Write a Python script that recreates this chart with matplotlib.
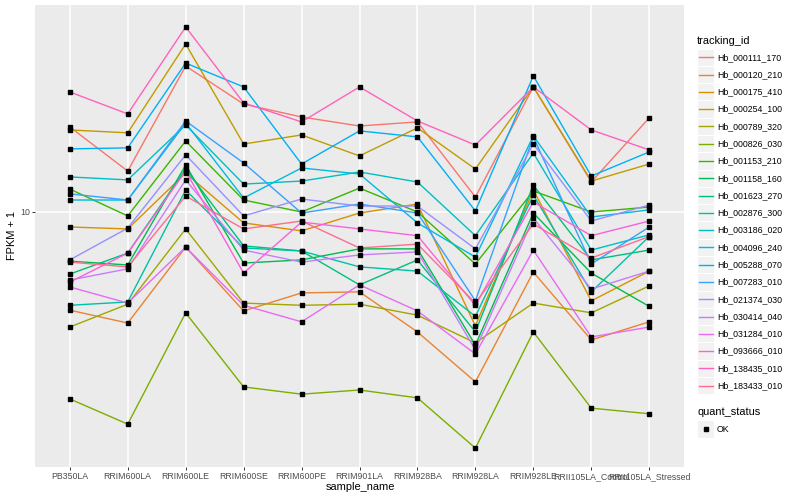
import matplotlib
matplotlib.use('Agg')
import matplotlib.pyplot as plt
from matplotlib.lines import Line2D
from matplotlib.patches import Rectangle
from matplotlib.ticker import FixedLocator, NullLocator

plt.rcParams['font.family'] = ['Liberation Sans', 'DejaVu Sans']

# samples on the x axis
samples = ['PB350LA', 'RRIM600LA', 'RRIM600LE', 'RRIM600SE', 'RRIM600PE',
           'RRIM901LA', 'RRIM928BA', 'RRIM928LA', 'RRIM928LE',
           'RRII105LA_Control', 'RRII105LA_Stressed']

# FPKM + 1 per gene
hb_000111_170 = [13.86, 11.70, 17.51, 15.13, 14.40, 13.91, 14.13, 10.59, 16.16, 11.22, 14.35]
hb_000120_210 = [6.86, 6.53, 8.74, 6.84, 7.33, 7.36, 6.31, 5.21, 7.94, 6.12, 6.56]
hb_000175_410 = [9.44, 9.37, 11.61, 9.59, 9.30, 9.96, 10.31, 6.46, 10.88, 7.11, 7.97]
hb_000254_100 = [13.70, 13.55, 19.05, 12.98, 13.44, 12.40, 13.81, 11.79, 16.16, 11.26, 12.02]
hb_000789_320 = [6.43, 7.02, 9.37, 7.05, 6.99, 7.02, 6.73, 6.05, 7.05, 6.79, 7.53]
hb_000826_030 = [4.88, 4.43, 6.79, 5.11, 4.97, 5.05, 4.90, 4.04, 6.31, 4.71, 4.61]
hb_001153_210 = [10.92, 9.85, 13.13, 10.47, 10.00, 10.96, 10.00, 8.19, 10.84, 10.00, 10.19]
hb_001158_160 = [8.28, 8.16, 11.97, 8.22, 8.32, 8.68, 8.68, 6.00, 9.96, 7.91, 6.96]
hb_001623_270 = [7.88, 8.54, 11.79, 8.78, 8.61, 7.56, 8.32, 6.31, 11.09, 8.32, 8.64]
hb_002876_300 = [6.99, 7.08, 10.88, 8.71, 8.61, 8.10, 7.97, 6.70, 10.67, 7.36, 9.10]
hb_003186_020 = [11.44, 11.31, 13.97, 11.13, 11.26, 11.66, 11.22, 9.13, 12.54, 8.64, 9.16]
hb_004096_240 = [10.47, 10.47, 14.07, 10.55, 11.84, 11.57, 9.59, 8.41, 13.39, 9.81, 10.08]
hb_005288_070 = [12.74, 12.79, 17.71, 16.16, 12.02, 13.65, 13.34, 10.04, 16.86, 11.48, 12.59]
hb_007283_010 = [10.72, 10.47, 14.18, 12.07, 9.96, 10.31, 9.96, 7.11, 13.34, 8.19, 9.44]
hb_021374_030 = [8.32, 9.40, 12.45, 9.85, 10.51, 10.23, 10.23, 8.68, 12.98, 9.66, 10.27]
hb_030414_040 = [7.70, 8.04, 11.31, 8.64, 8.25, 8.48, 8.58, 5.89, 9.77, 7.44, 7.97]
hb_031284_010 = [7.50, 7.05, 8.74, 6.99, 6.56, 7.56, 6.84, 5.80, 8.64, 6.19, 6.43]
hb_093666_010 = [7.64, 8.54, 11.70, 7.91, 9.62, 9.37, 9.13, 6.99, 10.39, 9.13, 9.66]
hb_138435_010 = [15.85, 14.57, 20.34, 15.20, 14.13, 16.16, 14.18, 12.93, 16.16, 13.70, 12.69]
hb_183433_010 = [8.25, 8.10, 10.63, 9.37, 9.66, 8.71, 8.84, 7.05, 9.55, 8.38, 9.10]

tracking_ids = ['Hb_000111_170', 'Hb_000120_210', 'Hb_000175_410', 'Hb_000254_100',
                'Hb_000789_320', 'Hb_000826_030', 'Hb_001153_210', 'Hb_001158_160',
                'Hb_001623_270', 'Hb_002876_300', 'Hb_003186_020', 'Hb_004096_240',
                'Hb_005288_070', 'Hb_007283_010', 'Hb_021374_030', 'Hb_030414_040',
                'Hb_031284_010', 'Hb_093666_010', 'Hb_138435_010', 'Hb_183433_010']
series = [hb_000111_170, hb_000120_210, hb_000175_410, hb_000254_100,
          hb_000789_320, hb_000826_030, hb_001153_210, hb_001158_160,
          hb_001623_270, hb_002876_300, hb_003186_020, hb_004096_240,
          hb_005288_070, hb_007283_010, hb_021374_030, hb_030414_040,
          hb_031284_010, hb_093666_010, hb_138435_010, hb_183433_010]

# ggplot hue palette, 20 levels
colors = ['#F8766D', '#EA8331', '#D89000', '#C09B00', '#A3A500', '#7CAE00',
          '#39B600', '#00BB4E', '#00BF7D', '#00C1A3', '#00BFC4', '#00BAE0',
          '#00B0F6', '#35A2FF', '#9590FF', '#C77CFF', '#E76BF3', '#FA62DB',
          '#FF62BC', '#FF6C91']

W, H = 800, 500
fig = plt.figure(figsize=(8, 5), dpi=100)

def fx(px):
    return px / W

def fy(py):
    return 1 - py / H

# panel
left, right, top, bottom = 35, 684, 5, 467
ax = fig.add_axes([fx(left), fy(bottom), fx(right - left), (bottom - top) / H])
ax.set_facecolor('#EBEBEB')
for s in ax.spines.values():
    s.set_visible(False)

xs = list(range(len(samples)))
for vals, c in zip(series, colors):
    ax.plot(xs, vals, color=c, lw=1.0, zorder=3)
for vals in series:
    ax.plot(xs, vals, ls='none', marker='s', ms=2.8, color='black', zorder=4)

ax.set_yscale('log')
ax.set_ylim(3.758, 22.13)
ax.set_xlim(-0.6, len(samples) - 0.4)
ax.yaxis.set_major_locator(FixedLocator([10]))
ax.yaxis.set_minor_locator(NullLocator())
ax.set_yticklabels(['10'])
ax.set_xticks(xs)
ax.set_xticklabels(samples)
ax.grid(True, color='white', lw=1.1, zorder=0)
ax.set_axisbelow(True)
ax.tick_params(length=2.0, width=0.7, color='#333333', pad=1.6,
               labelsize=6.3, labelcolor='#4D4D4D')

fig.text(fx(360), fy(487), 'sample_name', ha='center', va='center', fontsize=7.9)
fig.text(fx(12), fy(236), 'FPKM + 1', ha='center', va='center', rotation=90, fontsize=7.9)

# legend: tracking_id
key = 17.28
kx = 697
fig.text(fx(kx), fy(41), 'tracking_id', ha='left', va='center', fontsize=7.9)
for i, (name, c) in enumerate(zip(tracking_ids, colors)):
    cy = 57.3 + key * i
    fig.add_artist(Rectangle((fx(kx), fy(cy + key / 2)), key / W, key / H,
                             facecolor='#F2F2F2', edgecolor='white', lw=0.8,
                             transform=fig.transFigure))
    fig.add_artist(Line2D([fx(kx + 1.7), fx(kx + key - 1.7)], [fy(cy), fy(cy)],
                          color=c, lw=1.0, transform=fig.transFigure))
    fig.text(fx(717), fy(cy), name, ha='left', va='center', fontsize=6.3)

# legend: quant_status
fig.text(fx(kx), fy(412), 'quant_status', ha='left', va='center', fontsize=7.9)
cy = 429
fig.add_artist(Rectangle((fx(kx), fy(cy + key / 2)), key / W, key / H,
                         facecolor='#F2F2F2', edgecolor='white', lw=0.8,
                         transform=fig.transFigure))
fig.add_artist(Line2D([fx(kx + key / 2)], [fy(cy)], ls='none', marker='s', ms=2.8,
                      color='black', transform=fig.transFigure))
fig.text(fx(717), fy(cy), 'OK', ha='left', va='center', fontsize=6.3)

fig.savefig('out.png', dpi=100)
